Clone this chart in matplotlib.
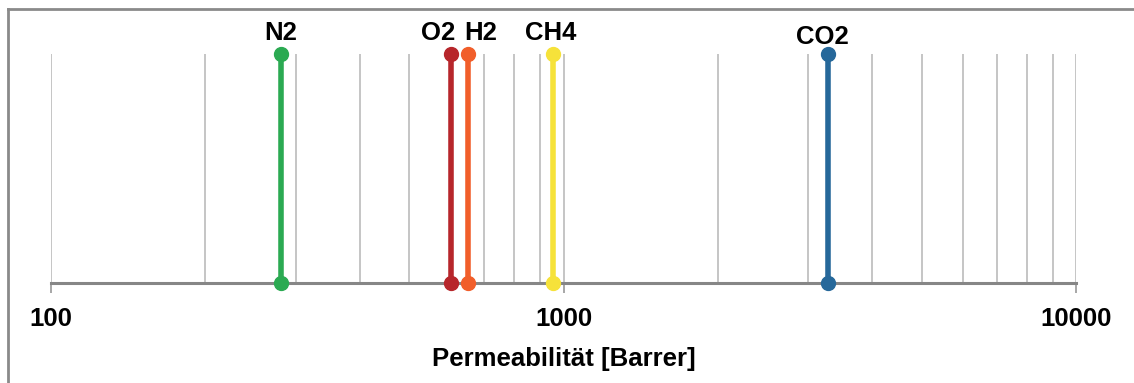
import matplotlib.pyplot as plt
from matplotlib.lines import Line2D
from matplotlib.ticker import LogLocator, NullFormatter, FixedFormatter, FixedLocator

plt.rcParams['font.family'] = ['Liberation Sans', 'DejaVu Sans']

# data
gases = ['N2', 'O2', 'H2', 'CH4', 'CO2']
permeability = [281, 603, 652, 955, 3270]
colors = ['#2BAA52', '#B7262B', '#F15E2A', '#F6E23A', '#26689A']
# label offsets (points) so that O2/H2 labels don't overlap
label_dx = [0, -9.5, 8.5, -2, -4]
label_dy = [15, 15, 15, 15, 12.5]

fig = plt.figure(figsize=(11.34, 3.83), dpi=100)
ax = fig.add_axes([0.045, 1 - 283 / 383, 0.9042, 229 / 383])

ax.set_xscale('log')
ax.set_xlim(100, 10000)
ax.set_ylim(0, 1)

for g, p, c, dx, dy in zip(gases, permeability, colors, label_dx, label_dy):
    ax.plot([p, p], [0, 1], color=c, lw=4, marker='o', ms=10, clip_on=False, zorder=5)
    ax.annotate(g, xy=(p, 1), xytext=(dx, dy), textcoords='offset points',
                ha='center', va='center', fontsize=18.5, fontweight='bold')

# gridlines
ax.xaxis.set_major_locator(FixedLocator([100, 1000, 10000]))
ax.xaxis.set_major_formatter(FixedFormatter(['100', '1000', '10000']))
ax.xaxis.set_minor_locator(LogLocator(base=10, subs=range(2, 10)))
ax.xaxis.set_minor_formatter(NullFormatter())
ax.grid(True, which='both', axis='x', color='#C0C0C0', lw=1.3, zorder=0)
ax.set_axisbelow(True)

for s in ['top', 'left', 'right']:
    ax.spines[s].set_visible(False)
ax.spines['bottom'].set_color('#868686')
ax.spines['bottom'].set_linewidth(2.2)
ax.spines['bottom'].set_zorder(3)
ax.set_yticks([])
ax.tick_params(axis='x', which='major', length=7, width=1.3, color='#A0A0A0', pad=10.5,
               labelsize=18.5)
ax.tick_params(axis='x', which='minor', length=0)
for lbl in ax.get_xticklabels():
    lbl.set_fontweight('bold')

ax.set_xlabel('Permeabilität [Barrer]', fontsize=18.5, fontweight='bold', labelpad=11)

# outer chart border (only top/left inside the image)
fig.add_artist(Line2D([8 / 1134, 8 / 1134], [0, 1 - 9 / 383], color='#8A8A8A', lw=2,
                      transform=fig.transFigure))
fig.add_artist(Line2D([8 / 1134, 1], [1 - 9 / 383, 1 - 9 / 383], color='#8A8A8A', lw=2,
                      transform=fig.transFigure))

fig.savefig('out.png', dpi=100)
